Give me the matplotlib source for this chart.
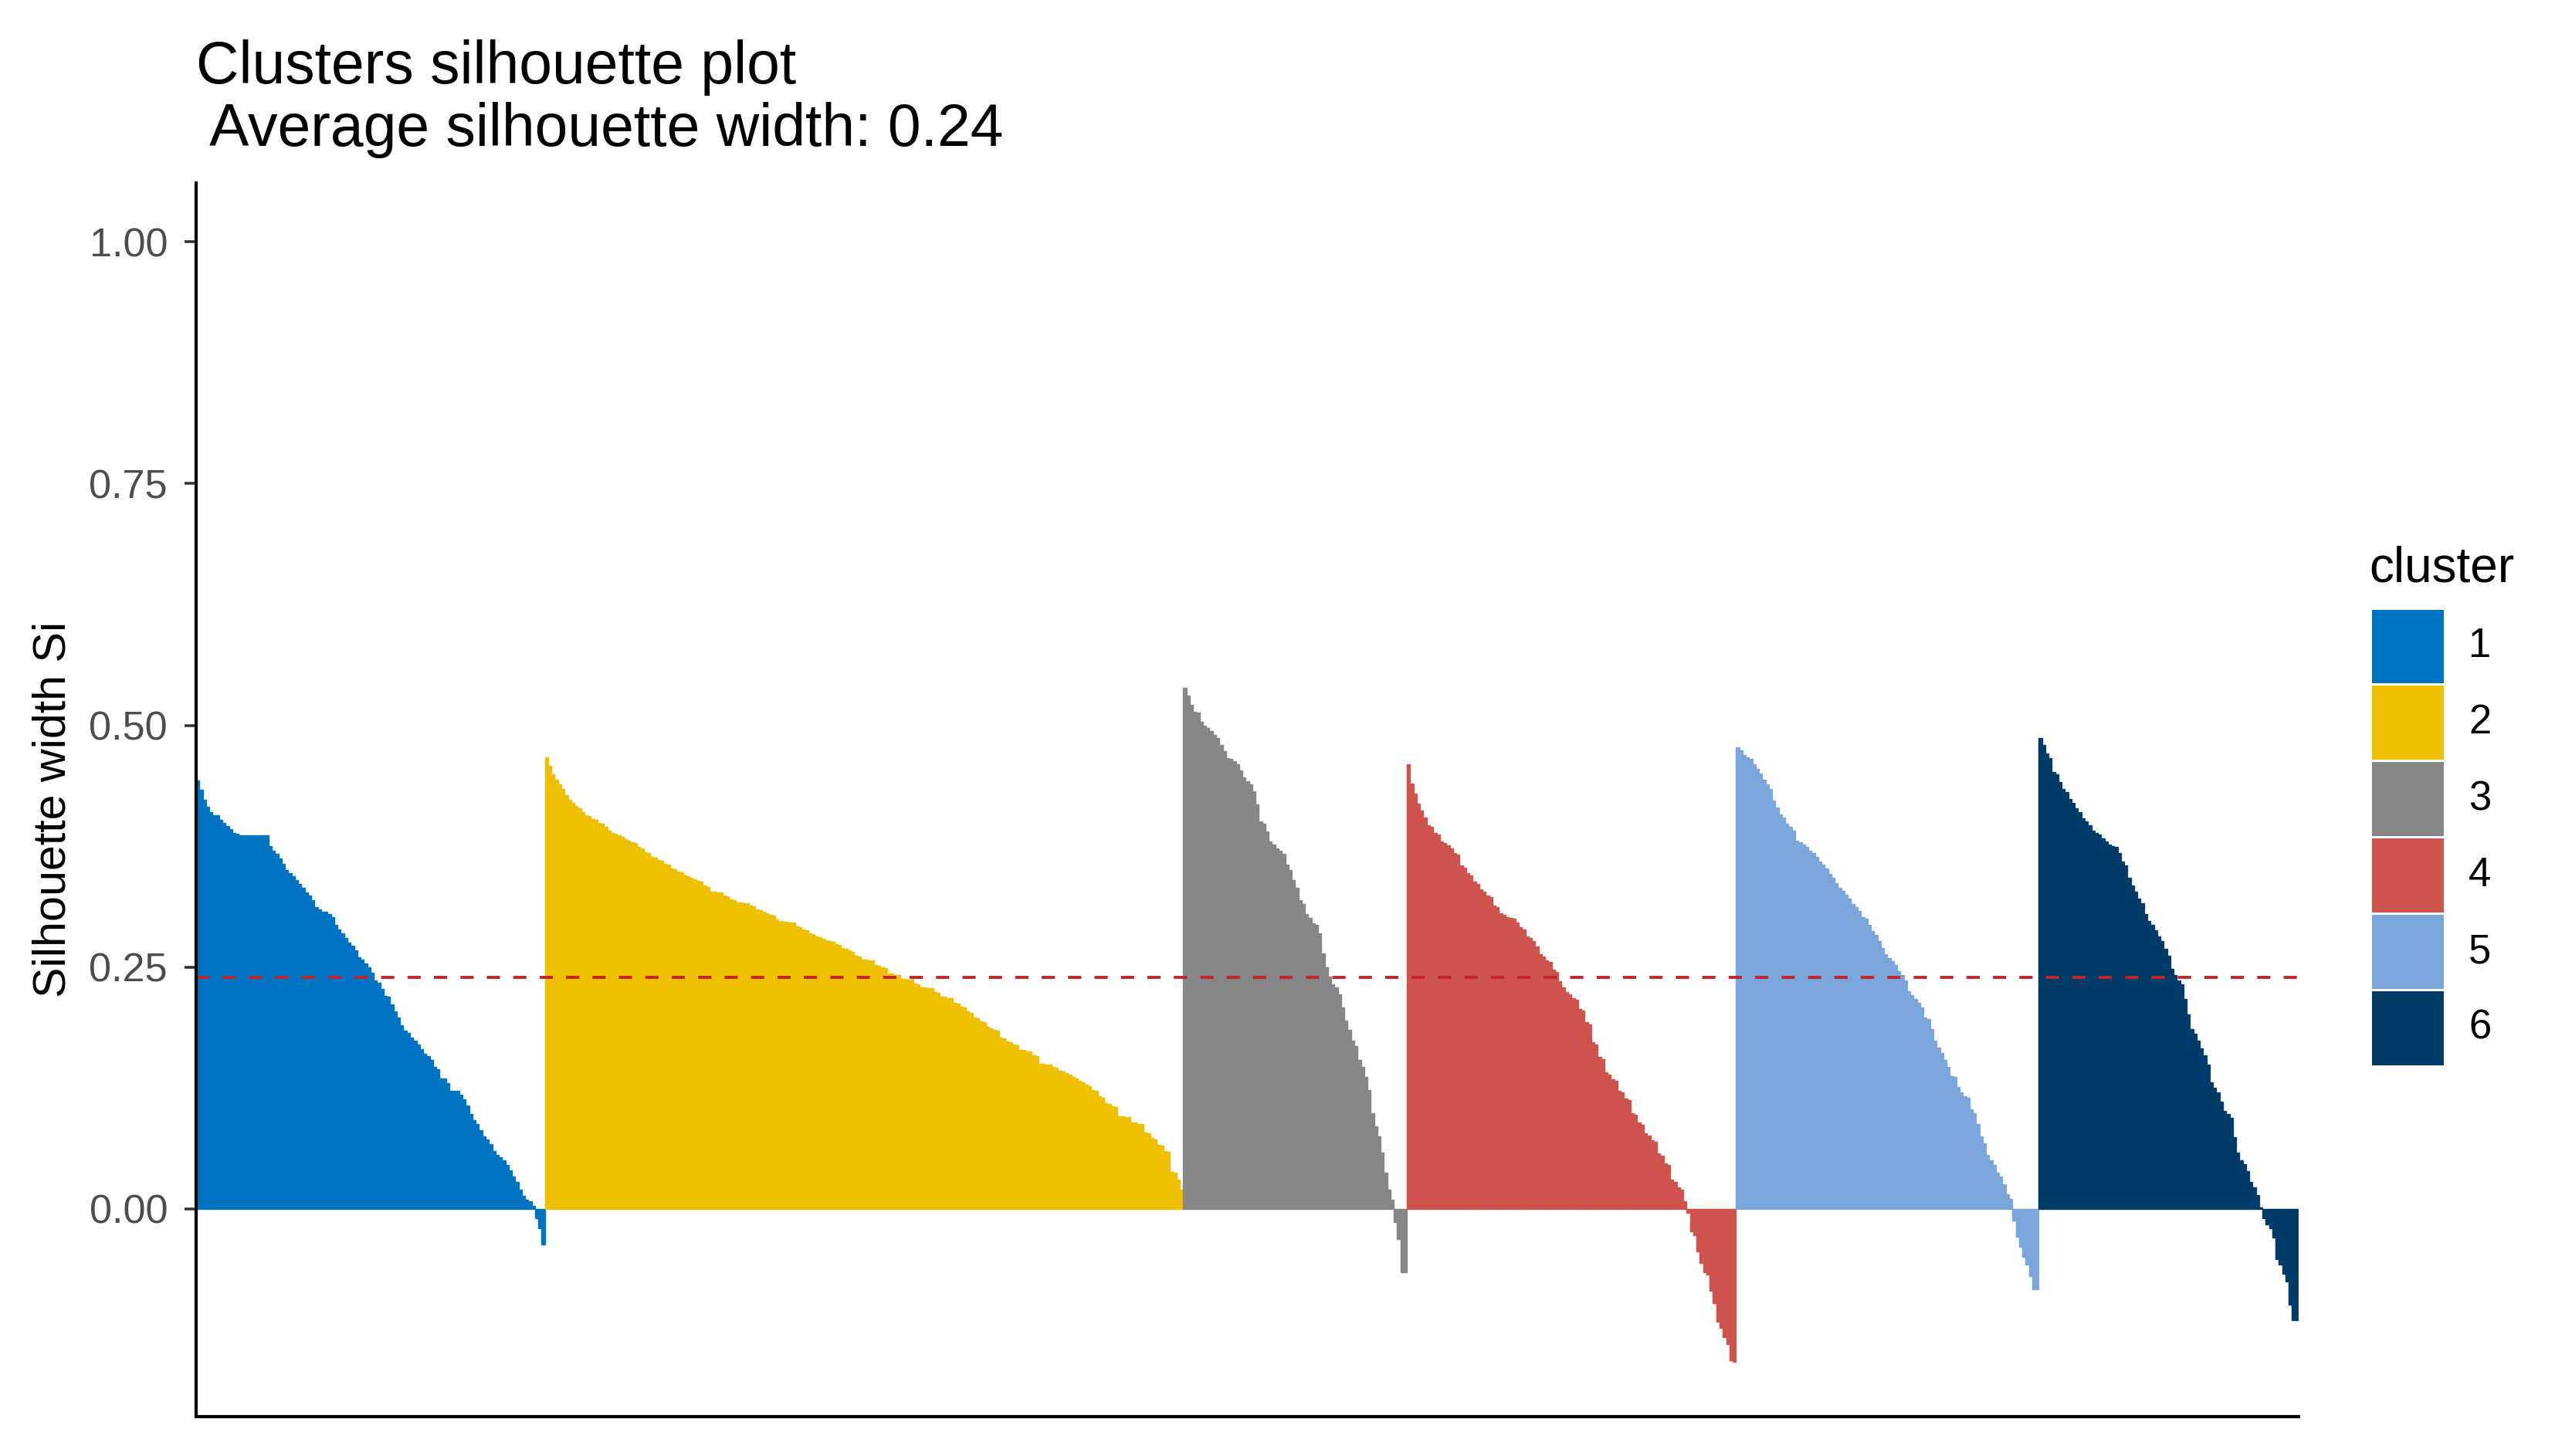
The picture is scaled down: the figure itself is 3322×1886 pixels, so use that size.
import numpy as np
import matplotlib.pyplot as plt
from matplotlib.patches import Rectangle

# silhouette widths per cluster, sorted as in the picture
c1 = [0.443, 0.433, 0.423, 0.416, 0.410, 0.407, 0.407, 0.402, 0.399, 0.396,
      0.393, 0.389, 0.388, 0.386, 0.386, 0.386, 0.386, 0.386, 0.386, 0.386,
      0.386, 0.386, 0.375, 0.370, 0.367, 0.362, 0.357, 0.350, 0.347, 0.344, 0.340,
      0.336, 0.332, 0.327, 0.324, 0.319, 0.312, 0.310, 0.307, 0.307, 0.305,
      0.302, 0.294, 0.289, 0.285, 0.280, 0.275, 0.272, 0.267, 0.260, 0.258,
      0.254, 0.250, 0.244, 0.236, 0.234, 0.227, 0.220, 0.219, 0.211, 0.204,
      0.198, 0.190, 0.184, 0.182, 0.177, 0.174, 0.170, 0.165, 0.160, 0.158,
      0.154, 0.147, 0.144, 0.135, 0.135, 0.130, 0.122, 0.122, 0.122, 0.118, 0.113, 0.107,
      0.098, 0.092, 0.088, 0.081, 0.075, 0.072, 0.067, 0.060, 0.056, 0.053,
      0.050, 0.045, 0.040, 0.033, 0.028, 0.020, 0.013, 0.009, 0.008, 0.003,
      -0.010, -0.020, -0.037]

c2 = [0.467, 0.458, 0.449, 0.444, 0.439, 0.434, 0.428, 0.423, 0.420, 0.417,
      0.414, 0.410, 0.407, 0.406, 0.403, 0.402, 0.399, 0.398,
      0.395, 0.391, 0.389, 0.388, 0.386, 0.385, 0.382, 0.381, 0.379, 0.378,
      0.374, 0.373, 0.369, 0.368, 0.364, 0.363, 0.361, 0.360, 0.357, 0.356,
      0.352, 0.351, 0.349, 0.348, 0.345, 0.344, 0.342, 0.341, 0.339, 0.338,
      0.334, 0.333, 0.328, 0.328, 0.327, 0.327, 0.324, 0.323, 0.320, 0.319,
      0.317, 0.317, 0.316, 0.316, 0.314, 0.313, 0.310, 0.309, 0.307, 0.306,
      0.304, 0.303, 0.299, 0.298, 0.297, 0.297, 0.296, 0.296, 0.292, 0.291,
      0.289, 0.288, 0.285, 0.284, 0.282, 0.281, 0.279, 0.278, 0.277, 0.276,
      0.274, 0.273, 0.270, 0.269, 0.267, 0.266, 0.262, 0.261, 0.258, 0.258,
      0.257, 0.257, 0.252, 0.251,
      0.250, 0.249, 0.243, 0.243, 0.242, 0.242, 0.238, 0.238, 0.237, 0.237,
      0.233, 0.232, 0.229, 0.229, 0.228, 0.228, 0.224, 0.223, 0.219, 0.219,
      0.218, 0.218, 0.213, 0.212, 0.209, 0.208, 0.204, 0.203, 0.198, 0.197,
      0.194, 0.193, 0.188, 0.187, 0.185, 0.184, 0.177, 0.176, 0.173, 0.172,
      0.170, 0.169, 0.164, 0.164, 0.163, 0.163, 0.159, 0.158, 0.150, 0.150,
      0.149, 0.149, 0.147, 0.146, 0.143, 0.142, 0.140, 0.139, 0.136, 0.135,
      0.132, 0.131, 0.128, 0.127, 0.123, 0.122, 0.116, 0.115, 0.109, 0.108,
      0.106, 0.105, 0.096, 0.096, 0.095, 0.095, 0.089, 0.089, 0.088, 0.088,
      0.079, 0.078, 0.073, 0.072, 0.066, 0.065, 0.060, 0.059, 0.038, 0.037,
      0.030, 0.020]

c3 = [0.539, 0.531, 0.521, 0.514, 0.513, 0.504, 0.500, 0.497, 0.494, 0.490,
      0.487, 0.480, 0.473, 0.466, 0.465, 0.463, 0.460, 0.453, 0.446, 0.442,
      0.439, 0.432, 0.418, 0.401, 0.398, 0.390, 0.380, 0.377, 0.373, 0.370,
      0.367, 0.356, 0.350, 0.340, 0.332, 0.319, 0.315, 0.305, 0.301, 0.295,
      0.294, 0.285, 0.264, 0.250, 0.240, 0.232, 0.229, 0.222, 0.208, 0.195,
      0.185, 0.174, 0.168, 0.154, 0.147, 0.136, 0.123, 0.099, 0.085, 0.075,
      0.058, 0.037, 0.020, 0.009, -0.014, -0.031, -0.066, -0.066]

c4 = [0.460, 0.440, 0.429, 0.419, 0.412, 0.405, 0.397, 0.395, 0.389, 0.387,
      0.380, 0.378, 0.376, 0.373, 0.368, 0.366, 0.355, 0.353, 0.347, 0.345,
      0.338, 0.336, 0.330, 0.328, 0.324, 0.322, 0.314, 0.312, 0.306, 0.304,
      0.302, 0.301, 0.300, 0.296, 0.291, 0.289, 0.282, 0.280, 0.277, 0.271,
      0.263, 0.261, 0.257, 0.255, 0.247, 0.245, 0.235, 0.229, 0.224, 0.222,
      0.218, 0.216, 0.207, 0.205, 0.193, 0.191, 0.172, 0.170, 0.157, 0.155,
      0.141, 0.139, 0.134, 0.132, 0.122, 0.120, 0.114, 0.112, 0.099, 0.097,
      0.089, 0.087, 0.078, 0.076, 0.071, 0.069, 0.057, 0.055, 0.047, 0.045,
      0.030, 0.028, 0.022, 0.020, 0.008, -0.004, -0.023, -0.027, -0.044, -0.056,
      -0.066, -0.068, -0.085, -0.098, -0.117, -0.123, -0.133, -0.140, -0.157, -0.158]

c5 = [0.477, 0.474, 0.469, 0.467, 0.465, 0.460, 0.455, 0.450, 0.444, 0.439,
      0.434, 0.422, 0.415, 0.408, 0.405, 0.398, 0.395, 0.391, 0.381, 0.379,
      0.377, 0.374, 0.370, 0.368, 0.364, 0.359, 0.356, 0.352, 0.346, 0.342,
      0.337, 0.332, 0.329, 0.325, 0.321, 0.315, 0.312, 0.308, 0.302, 0.300,
      0.294, 0.287, 0.283, 0.277, 0.270, 0.263, 0.259, 0.256, 0.252, 0.246,
      0.242, 0.236, 0.225, 0.221, 0.217, 0.213, 0.208, 0.198, 0.196, 0.186,
      0.174, 0.167, 0.161, 0.154, 0.147, 0.137, 0.136, 0.126, 0.120, 0.116,
      0.115, 0.103, 0.099, 0.088, 0.075, 0.068, 0.056, 0.050, 0.045, 0.037,
      0.033, 0.025, 0.015, 0.010, -0.012, -0.029, -0.039, -0.050, -0.058, -0.070,
      -0.083, -0.083]

c6 = [0.487, 0.480, 0.471, 0.466, 0.452, 0.449, 0.441, 0.434, 0.431, 0.424,
      0.420, 0.414, 0.410, 0.404, 0.401, 0.397, 0.391, 0.389, 0.387, 0.383,
      0.380, 0.377, 0.375, 0.374, 0.368, 0.359, 0.355, 0.342, 0.334, 0.328,
      0.321, 0.316, 0.305, 0.298, 0.294, 0.288, 0.282, 0.277, 0.269, 0.262,
      0.248, 0.242, 0.236, 0.232, 0.217, 0.201, 0.186, 0.181, 0.174, 0.166,
      0.159, 0.149, 0.131, 0.125, 0.120, 0.111, 0.101, 0.098, 0.094, 0.074,
      0.058, 0.050, 0.046, 0.039, 0.028, 0.022, 0.014, 0.001, -0.010, -0.016,
      -0.020, -0.030, -0.052, -0.058, -0.067, -0.075, -0.099, -0.115, -0.115]

cluster_labels = ['1', '2', '3', '4', '5', '6']
cluster_colors = ['#0073C2', '#EFC000', '#868686', '#CD534C', '#7AA6DC', '#003C67']
y_ticks = [0.00, 0.25, 0.50, 0.75, 1.00]

clusters = [c1, c2, c3, c4, c5, c6]
values = []
bar_colors = []
for vals, col in zip(clusters, cluster_colors):
    values += vals
    bar_colors += [col] * len(vals)
n = len(values)
avg_width = np.mean(values)

plt.rcParams['font.family'] = ['Liberation Sans', 'DejaVu Sans']

W, H = 3322, 1886
fig = plt.figure(figsize=(W / 200, H / 200), dpi=200)
ax = fig.add_axes([254 / W, 1 - 1835 / H, (2977 - 254) / W, (1835 - 237) / H])

ax.bar(np.arange(n), values, width=1.0, color=bar_colors,
       edgecolor=bar_colors, linewidth=0.5)
ax.axhline(avg_width, color='#C0252A', linestyle=(0, (4.4, 4.4)), linewidth=1.4)

ax.set_xlim(-0.5, n - 0.5)
ax.set_ylim(-0.215, 1.061)
ax.set_xticks([])
ax.set_yticks(y_ticks)
ax.set_yticklabels([f'{t:.2f}' for t in y_ticks])
ax.tick_params(axis='y', length=5.4, width=1.3, color='#333333',
               labelsize=18.8, labelcolor='#4D4D4D', pad=7.9)
for side in ['top', 'right']:
    ax.spines[side].set_visible(False)
for side in ['left', 'bottom']:
    ax.spines[side].set_linewidth(1.5)
    ax.spines[side].set_color('black')

ax.set_ylabel('Silhouette width Si', fontsize=21.3)
ax.yaxis.set_label_coords(-0.0577, 0.492)

# overlay in pixel units for titles and legend
lay = fig.add_axes([0, 0, 1, 1])
lay.set_xlim(0, W)
lay.set_ylim(H, 0)
lay.axis('off')
lay.patch.set_alpha(0)

lay.text(254, 108, 'Clusters silhouette plot', fontsize=27.7, va='baseline', ha='left')
lay.text(254, 189, ' Average silhouette width: 0.24', fontsize=27.7, va='baseline', ha='left')

lay.text(3068, 754, 'cluster', fontsize=23, va='baseline', ha='left')
key_h = 98.9
for i, (lab, col) in enumerate(zip(cluster_labels, cluster_colors)):
    top = 788 + i * key_h
    lay.add_patch(Rectangle((3072, top + 1.5), 93, key_h - 3, facecolor=col, edgecolor='none'))
    lay.text(3197, top + key_h / 2, lab, fontsize=19, va='center', ha='left')

fig.savefig('out.png', dpi=200)
